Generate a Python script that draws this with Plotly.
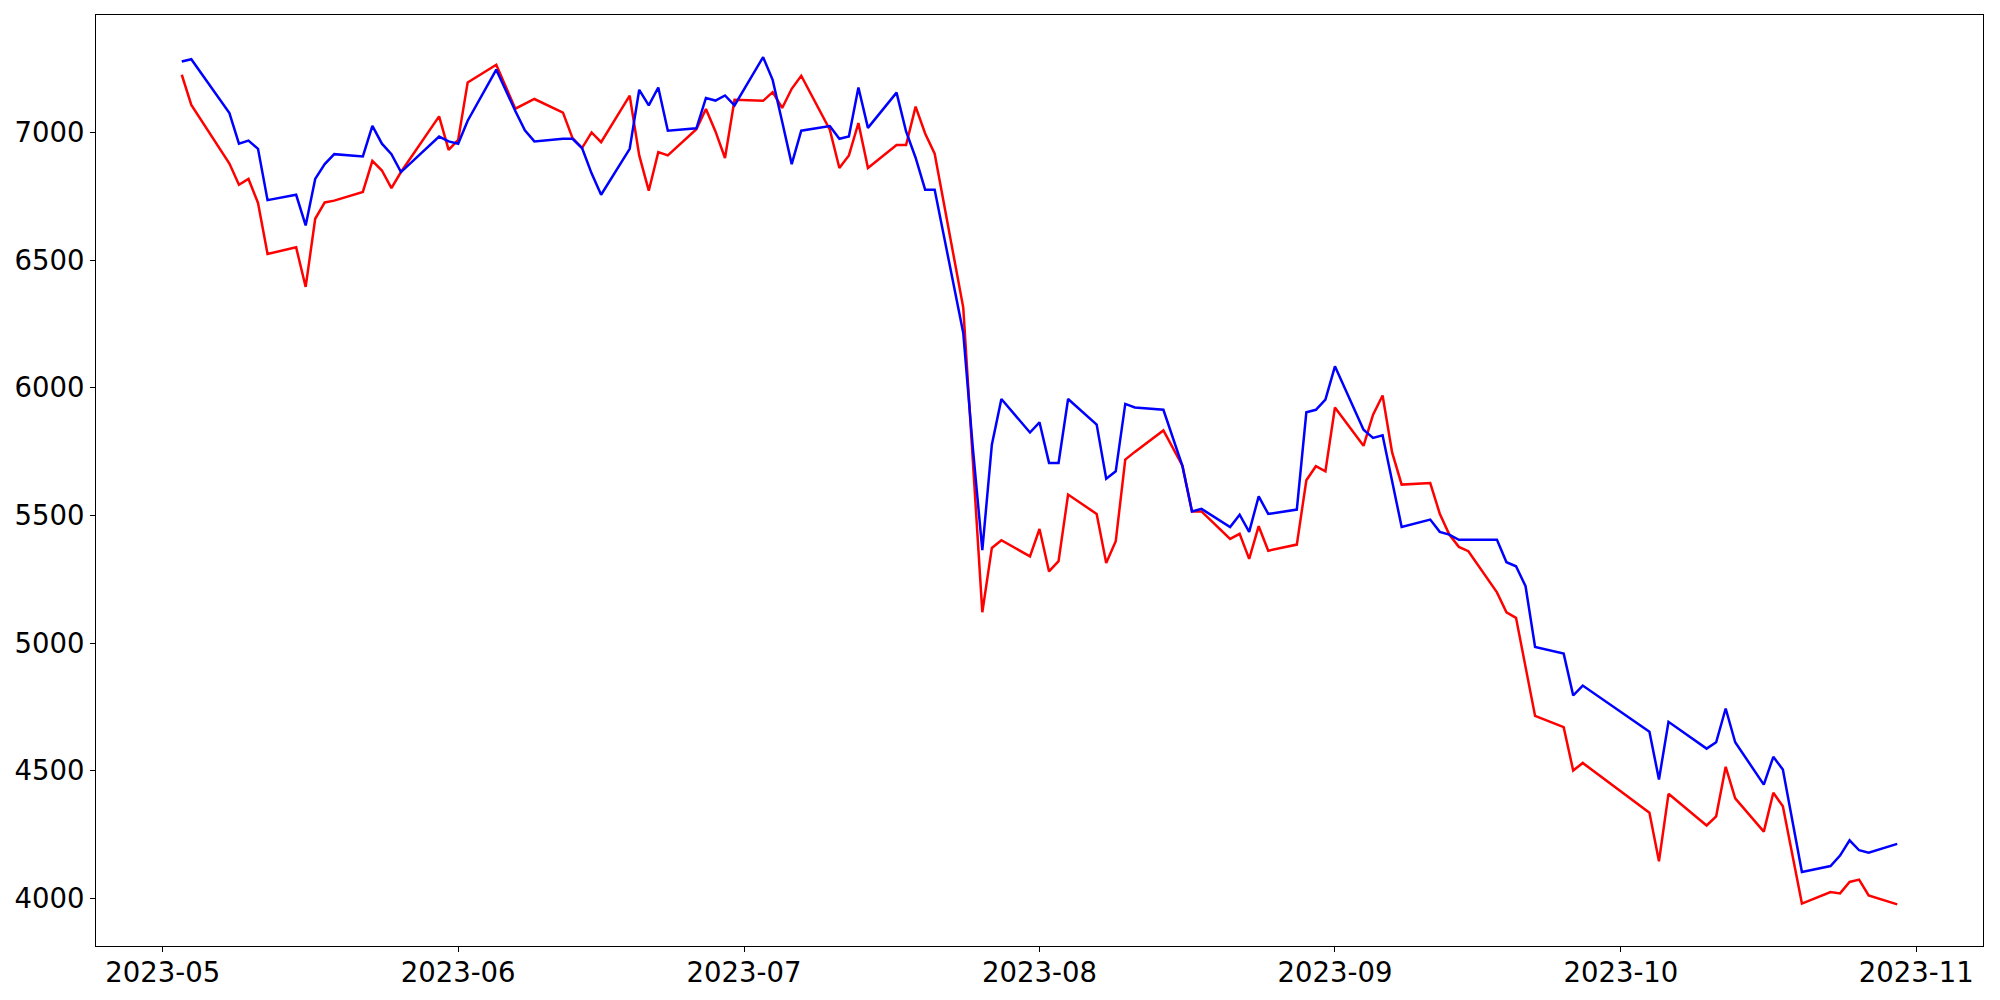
import plotly.graph_objects as go

dates = [
    "2023-05-03", "2023-05-04", "2023-05-08", "2023-05-09", "2023-05-10", "2023-05-11", "2023-05-12",
    "2023-05-15", "2023-05-16", "2023-05-17", "2023-05-18", "2023-05-19", "2023-05-22", "2023-05-23",
    "2023-05-24", "2023-05-25", "2023-05-26", "2023-05-30", "2023-05-31",
    "2023-06-01", "2023-06-02", "2023-06-05", "2023-06-07", "2023-06-08", "2023-06-09", "2023-06-12",
    "2023-06-13", "2023-06-14", "2023-06-15", "2023-06-16", "2023-06-19", "2023-06-20", "2023-06-21",
    "2023-06-22", "2023-06-23", "2023-06-26", "2023-06-27", "2023-06-28", "2023-06-29", "2023-06-30",
    "2023-07-03", "2023-07-04", "2023-07-05", "2023-07-06", "2023-07-07", "2023-07-10", "2023-07-11",
    "2023-07-12", "2023-07-13", "2023-07-14", "2023-07-17", "2023-07-18", "2023-07-19", "2023-07-20",
    "2023-07-21", "2023-07-24", "2023-07-25", "2023-07-26", "2023-07-27", "2023-07-28", "2023-07-31",
    "2023-08-01", "2023-08-02", "2023-08-03", "2023-08-04", "2023-08-07", "2023-08-08", "2023-08-09",
    "2023-08-10", "2023-08-11", "2023-08-14", "2023-08-16", "2023-08-17", "2023-08-18", "2023-08-21",
    "2023-08-22", "2023-08-23", "2023-08-24", "2023-08-25", "2023-08-28", "2023-08-29", "2023-08-30",
    "2023-08-31",
    "2023-09-01", "2023-09-04", "2023-09-05", "2023-09-06", "2023-09-07", "2023-09-08", "2023-09-11",
    "2023-09-12", "2023-09-13", "2023-09-14", "2023-09-15", "2023-09-18", "2023-09-19", "2023-09-20",
    "2023-09-21", "2023-09-22", "2023-09-25", "2023-09-26", "2023-09-27",
    "2023-10-04", "2023-10-05", "2023-10-06", "2023-10-10", "2023-10-11", "2023-10-12", "2023-10-13",
    "2023-10-16", "2023-10-17", "2023-10-18", "2023-10-19", "2023-10-20", "2023-10-23", "2023-10-24",
    "2023-10-25", "2023-10-26", "2023-10-27", "2023-10-30",
]

red_values = [
    7226, 7108, 6878, 6795, 6818, 6724, 6524, 6550, 6395, 6662, 6726, 6733, 6767, 6889, 6851, 6782, 6845, 7063, 6932,
    6971, 7196, 7265, 7093, 7112, 7131, 7078, 6978, 6939, 7000, 6962, 7144, 6910, 6772, 6923, 6910, 7013, 7092, 7004, 6900, 7128,
    7124, 7158, 7096, 7171, 7222, 7011, 6861, 6910, 7037, 6861, 6951, 6951, 7101, 6996, 6917, 6314, 5720, 5121, 5373, 5403, 5340,
    5447, 5281, 5321, 5582, 5506, 5314, 5399, 5719, 5749, 5833, 5695, 5516, 5516, 5408, 5428, 5330, 5458, 5362, 5386, 5638, 5693, 5673,
    5923, 5773, 5895, 5970, 5747, 5621, 5627, 5507, 5425, 5377, 5360, 5199, 5121, 5099, 4910, 4715, 4671, 4501, 4531,
    4336, 4146, 4410, 4286, 4322, 4516, 4392, 4262, 4414, 4361, 4175, 3980, 4025, 4020, 4065, 4074, 4012, 3977,
]

blue_values = [
    7278, 7287, 7076, 6956, 6968, 6936, 6735, 6756, 6636, 6818, 6876, 6915, 6906, 7026, 6956, 6915, 6845, 6984, 6965,
    6956, 7046, 7246, 7084, 7008, 6965, 6975, 6975, 6939, 6840, 6756, 6936, 7167, 7106, 7176, 7007, 7016, 7135, 7125, 7145, 7106,
    7295, 7206, 7042, 6876, 7007, 7025, 6975, 6984, 7176, 7018, 7156, 7004, 6901, 6776, 6776, 6215, 5767, 5364, 5777, 5956, 5825,
    5865, 5706, 5706, 5956, 5856, 5644, 5673, 5937, 5923, 5914, 5693, 5516, 5526, 5455, 5503, 5436, 5575, 5506, 5523, 5904, 5914, 5954,
    6084, 5836, 5804, 5814, 5638, 5455, 5484, 5436, 5425, 5405, 5405, 5405, 5317, 5301, 5223, 4985, 4959, 4795, 4834,
    4653, 4466, 4692, 4587, 4612, 4744, 4612, 4446, 4555, 4505, 4308, 4104, 4127, 4168, 4228, 4189, 4179, 4214,
]

x_tick_vals = ["2023-05-01", "2023-06-01", "2023-07-01", "2023-08-01", "2023-09-01", "2023-10-01", "2023-11-01"]
x_tick_text = ["2023-05", "2023-06", "2023-07", "2023-08", "2023-09", "2023-10", "2023-11"]
y_tick_vals = [4000, 4500, 5000, 5500, 6000, 6500, 7000]

fig = go.Figure()
fig.add_trace(go.Scatter(x=dates, y=red_values, mode="lines",
                         line=dict(color="#ff0000", width=2.5), showlegend=False))
fig.add_trace(go.Scatter(x=dates, y=blue_values, mode="lines",
                         line=dict(color="#0000ff", width=2.5), showlegend=False))

axis_common = dict(
    showgrid=False, zeroline=False, showline=True, mirror=True, automargin=False,
    linecolor="black", linewidth=1.1, ticks="outside", ticklen=5, tickwidth=1.1,
    tickcolor="black", tickfont=dict(family="DejaVu Sans", size=27.5, color="black"),
)

# page body has an 8px default margin; compensate so the axes land at the reference position
fig.update_layout(
    width=2000, height=1000,
    margin=dict(l=88, r=25, t=7, b=62),
    paper_bgcolor="white", plot_bgcolor="white",
    xaxis=dict(type="date", range=["2023-04-24", "2023-11-08"],
               tickmode="array", tickvals=x_tick_vals, ticktext=x_tick_text,
               ticklabelstandoff=-3, **axis_common),
    yaxis=dict(range=[3814, 7460], tickmode="array", tickvals=y_tick_vals,
               ticktext=[str(v) for v in y_tick_vals], **axis_common),
)

fig.write_html("out.html")
